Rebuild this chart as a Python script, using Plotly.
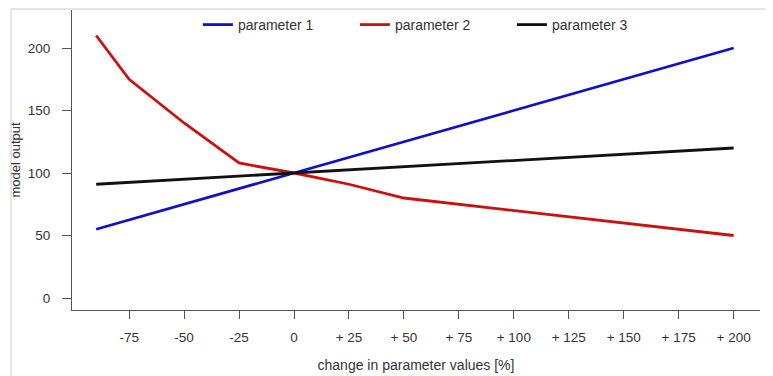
import plotly.graph_objects as go

change_pct = [-90, -75, -50, -25, 0, 25, 50, 75, 100, 125, 150, 175, 200]
param1 = [55, 62.5, 75, 87.5, 100, 112.5, 125, 137.5, 150, 162.5, 175, 187.5, 200]
param2 = [210, 175, 140, 108, 100, 91, 80, 75, 70, 65, 60, 55, 50]
param3 = [91, 92.5, 95, 97.5, 100, 102.5, 105, 107.5, 110, 112.5, 115, 117.5, 120]

x_tickvals = [-75, -50, -25, 0, 25, 50, 75, 100, 125, 150, 175, 200]
x_ticktext = ["-75", "-50", "-25", "0", "+ 25", "+ 50", "+ 75", "+ 100", "+ 125", "+ 150", "+ 175", "+ 200"]
y_tickvals = [0, 50, 100, 150, 200]

FONT = "Liberation Sans, Arial, sans-serif"
TXT = "#333333"
AX = "#555555"

fig = go.Figure()
for name, vals, col in [("parameter 1", param1, "#1010c8"),
                        ("parameter 2", param2, "#cc1010"),
                        ("parameter 3", param3, "#111111")]:
    fig.add_trace(go.Scatter(x=change_pct, y=vals, mode="lines", name=name,
                             line=dict(color=col, width=2.8)))

# page body has an 8px margin, so the figure is placed at (8, 8)
fig.update_layout(
    width=765, height=368,
    margin=dict(l=64, r=13, t=2, b=66, autoexpand=False),
    paper_bgcolor="white", plot_bgcolor="white",
    font=dict(family=FONT, size=13, color=TXT),
    showlegend=True,
    legend=dict(orientation="h", x=0.183, y=0.95, xanchor="left", yanchor="middle",
                entrywidth=112, entrywidthmode="pixels",
                font=dict(size=14, color=TXT), bgcolor="rgba(0,0,0,0)"),
    xaxis=dict(range=[-101, 212], tickmode="array", tickvals=x_tickvals, ticktext=x_ticktext,
               automargin=False,
               showgrid=False, zeroline=False, showline=True, linecolor=AX, linewidth=1,
               ticks="outside", ticklen=8, tickcolor=AX, ticklabelstandoff=7,
               tickfont=dict(size=13.5, color=TXT),
               title=dict(text="change in parameter values [%]", standoff=15,
                          font=dict(size=14, color=TXT))),
    yaxis=dict(range=[-9.6, 230.4], tickmode="array", tickvals=y_tickvals,
               automargin=False,
               showgrid=False, zeroline=False, showline=True, linecolor=AX, linewidth=1,
               ticks="outside", ticklen=9, tickcolor=AX, ticklabelstandoff=9,
               tickfont=dict(size=13.5, color=TXT),
               title=dict(text="model output", standoff=9, font=dict(size=13, color=TXT))),
)

fig.add_shape(type="rect", xref="paper", yref="paper",
              x0=(3 - 64) / 688, x1=(759 - 64) / 688, y0=-0.4, y1=(302 - 1) / 300,
              line=dict(color="#cccccc", width=1), fillcolor="rgba(0,0,0,0)", layer="below")

fig.write_html("out.html")
